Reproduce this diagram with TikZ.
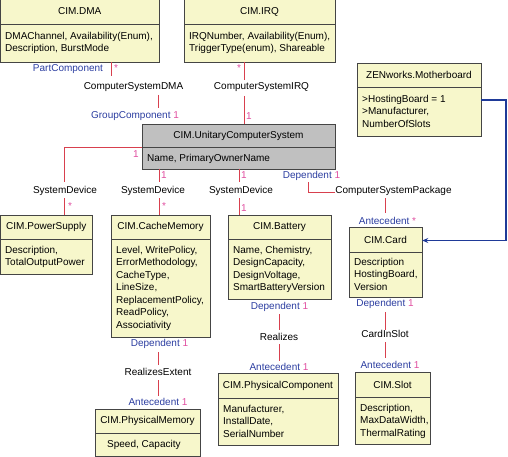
\documentclass[tikz,border=0pt]{standalone}
\usepackage{fontspec}
\setmainfont{Liberation Sans}
\usetikzlibrary{fit,arrows.meta}
\definecolor{boxfill}{HTML}{F7F7CB}
\definecolor{ucsfill}{HTML}{C0C0C0}
\definecolor{boxline}{HTML}{454545}
\definecolor{conred}{HTML}{D8404E}
\definecolor{rolblue}{HTML}{2B3DA0}
\definecolor{multpink}{HTML}{E04FA0}
\definecolor{linkblue}{HTML}{1F3A98}
\newcommand\umlclass[9]{%
  \draw[clsline, fill=#9] (#2,#3) rectangle (#4,#5);
  \draw[clsline] (#2,#6) -- (#4,#6);
  \path (#2,#3) coordinate (#1-nw) (#4,#5) coordinate (#1-se);
  \node[inner sep=0pt, fit=(#1-nw)(#1-se)] (#1) {};
  \node[titletext] (#1-t) at ({(#2+#4)/2},{(#3+#6)/2}) {#7};
}
\newcommand\umlbody[4]{%
  \node[bodytext] (#1-b) at (#2,#3) {#4};
}
\begin{document}
\begin{tikzpicture}[x=1pt,y=-1pt,
  clsline/.style={draw=boxline, line width=0.9pt},
  titletext/.style={font=\fontsize{10}{12.5}\selectfont, inner sep=0pt},
  bodytext/.style={font=\fontsize{10}{12.5}\selectfont, inner sep=0pt, anchor=north west, align=left},
  lbl/.style={font=\fontsize{10}{12.5}\selectfont, inner sep=0pt},
  role/.style={font=\fontsize{10}{12.5}\selectfont, inner sep=0pt, text=rolblue},
  mult/.style={font=\fontsize{10}{12.5}\selectfont, inner sep=0pt, text=multpink},
  con/.style={draw=conred, line width=0.8pt},
  hosting/.style={draw=linkblue, line width=1.6pt, -{Stealth[length=6pt,width=5pt]}}]
\useasboundingbox (0,0) rectangle (508,457);

% classes
\umlclass{dma}{0.5}{-1}{159}{62}{24}{CIM.DMA}{}{boxfill}
\umlbody{dma}{5}{32}{DMAChannel, Availability(Enum),\\Description, BurstMode}
\umlclass{irq}{184}{-1}{335}{62}{24}{CIM.IRQ}{}{boxfill}
\umlbody{irq}{189}{32}{IRQNumber, Availability(Enum),\\TriggerType(enum), Shareable}
\umlclass{zen}{357}{63}{481}{136}{87}{ZENworks.Motherboard}{}{boxfill}
\umlbody{zen}{362}{95}{>HostingBoard = 1\\>Manufacturer,\\NumberOfSlots}
\umlclass{ucs}{142}{124}{335}{169}{147}{CIM.UnitaryComputerSystem}{}{ucsfill}
\umlbody{ucs}{147}{154}{Name, PrimaryOwnerName}
\umlclass{psu}{0.5}{215}{92}{274}{239}{CIM.PowerSupply}{}{boxfill}
\umlbody{psu}{5}{246}{Description,\\TotalOutputPower}
\umlclass{cache}{111}{215}{210}{337}{239}{CIM.CacheMemory}{}{boxfill}
\umlbody{cache}{116}{246}{Level, WritePolicy,\\ErrorMethodology,\\CacheType,\\LineSize,\\ReplacementPolicy,\\ReadPolicy,\\Associativity}
\umlclass{bat}{228}{215}{331}{299}{239}{CIM.Battery}{}{boxfill}
\umlbody{bat}{233}{246}{Name, Chemistry,\\DesignCapacity,\\DesignVoltage,\\SmartBatteryVersion}
\umlclass{card}{349}{227}{422}{297}{252}{CIM.Card}{}{boxfill}
\umlbody{card}{354}{258}{Description\\HostingBoard,\\Version}
\umlclass{pcomp}{218}{373}{338}{445}{398}{CIM.PhysicalComponent}{}{boxfill}
\umlbody{pcomp}{223}{405}{Manufacturer,\\InstallDate,\\SerialNumber}
\umlclass{pmem}{95}{409}{200}{456.5}{433}{CIM.PhysicalMemory}{}{boxfill}
\umlbody{pmem}{107}{440}{Speed, Capacity}
\umlclass{slot}{355}{372}{430}{444}{397}{CIM.Slot}{}{boxfill}
\umlbody{slot}{360}{404}{Description,\\MaxDataWidth,\\ThermalRating}

% association names
\node[lbl] (csdma) at (133.5,87) {ComputerSystemDMA};
\node[lbl] (csirq) at (261.5,87) {ComputerSystemIRQ};
\node[lbl] (sd1) at (65,191) {SystemDevice};
\node[lbl] (sd2) at (153,191) {SystemDevice};
\node[lbl] (sd3) at (241,191) {SystemDevice};
\node[lbl] (cspkg) at (393.5,191) {ComputerSystemPackage};
\node[lbl] (rext) at (158,372) {RealizesExtent};
\node[lbl] (real) at (279,337) {Realizes};
\node[lbl] (cis) at (385,334) {CardInSlot};

% roles and multiplicities
\node[role] (r1) at (68,69) {PartComponent};
\node[mult] (m1) at (116,68) {*};
\node[role] (r2) at (135,116) {GroupComponent \textcolor{multpink}{1}};
\node[mult] (m2) at (239,68) {*};
\node[mult] (m3) at (249,116) {1};
\node[mult] (m4) at (136,154) {1};
\node[mult] (m5) at (164,175) {1};
\node[mult] (m6) at (244,175) {1};
\node[mult] (m7) at (70,206) {*};
\node[mult] (m8) at (164,206) {*};
\node[mult] (m9) at (244,208) {1};
\node[role] (r3) at (311.5,176) {Dependent \textcolor{multpink}{1}};
\node[role] (r4) at (387.5,221) {Antecedent \textcolor{multpink}{*}};
\node[role] (r5) at (159.5,344) {Dependent \textcolor{multpink}{1}};
\node[role] (r6) at (158,402) {Antecedent \textcolor{multpink}{1}};
\node[role] (r7) at (279.5,307) {Dependent \textcolor{multpink}{1}};
\node[role] (r8) at (279,367) {Antecedent \textcolor{multpink}{1}};
\node[role] (r9) at (385,304) {Dependent \textcolor{multpink}{1}};
\node[role] (r10) at (390,365) {Antecedent \textcolor{multpink}{1}};

% free ends of connectors
\coordinate (a1) at (111,76);
\coordinate (a2) at (158,95);
\coordinate (a3) at (158,108);
\coordinate (b1) at (244,80);
\coordinate (b2) at (244,96);
\coordinate (c1) at (64,147);
\coordinate (c2) at (64,182);
\coordinate (c3) at (64,198);
\coordinate (d1) at (159,182);
\coordinate (d2) at (159,198);
\coordinate (e1) at (239,182);
\coordinate (e2) at (239,198);
\coordinate (f1) at (308,182);
\coordinate (f2) at (308,192);
\coordinate (f3) at (385,198);
\coordinate (f4) at (385,213);
\coordinate (g1) at (158,352);
\coordinate (g2) at (158,365);
\coordinate (g3) at (158,380);
\coordinate (g4) at (158,396);
\coordinate (h1) at (279,314);
\coordinate (h2) at (279,330);
\coordinate (h3) at (279,344);
\coordinate (h4) at (279,361);
\coordinate (k1) at (385,312);
\coordinate (k2) at (385,330);
\coordinate (k3) at (385,342);
\coordinate (k4) at (385,358);

% connectors
\draw[con] (a1 |- dma.south) -- (a1);
\draw[con] (a2) -- (a3);
\draw[con] (b1 |- irq.south) -- (b1);
\draw[con] (b2) -- (b2 |- ucs.north);
\draw[con] (ucs.west |- c1) -- (c1) -- (c2);
\draw[con] (c3) -- (c3 |- psu.north);
\draw[con] (d1 |- ucs.south) -- (d1);
\draw[con] (d2) -- (d2 |- cache.north);
\draw[con] (e1 |- ucs.south) -- (e1);
\draw[con] (e2) -- (e2 |- bat.north);
\draw[con] (f1) -- (f2) -- (cspkg.west |- f2);
\draw[con] (f3) -- (f4);
\draw[con] (g1) -- (g2);
\draw[con] (g3) -- (g4);
\draw[con] (h1) -- (h2);
\draw[con] (h3) -- (h4);
\draw[con] (k1) -- (k2);
\draw[con] (k3) -- (k4);

% hosting board link
\coordinate (z1) at (506,100);
\coordinate (z2) at (506,240.5);
\draw[hosting] (zen.east |- z1) -- (z1) -- (z2) -- (card.east |- z2);
\end{tikzpicture}
\end{document}
